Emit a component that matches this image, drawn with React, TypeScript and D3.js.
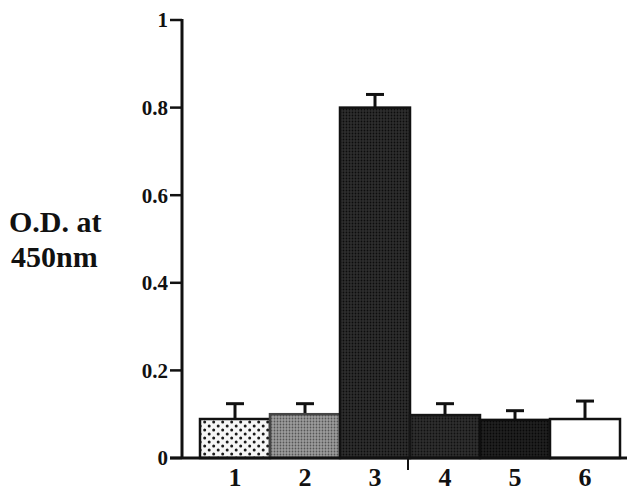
import React from 'react';
import * as d3 from 'd3';

const categories = ['1', '2', '3', '4', '5', '6'];
const means = [0.089, 0.1, 0.8, 0.098, 0.087, 0.089];
const upperErrors = [0.035, 0.024, 0.03, 0.026, 0.021, 0.041];
const yTicks = [0, 0.2, 0.4, 0.6, 0.8, 1];
const yTickLabels = ['0', '0.2', '0.4', '0.6', '0.8', '1'];

const width = 628;
const height = 493;
const font = '"Liberation Serif", "Times New Roman", serif';

// fill for each bar, patterns defined below
const fills = ['url(#dots)', 'url(#grey)', 'url(#dark3)', 'url(#dark4)', 'url(#dark5)', '#fff'];
const borders = ['#111', '#444', '#111', '#151515', '#0e0e0e', '#111'];

export default function App() {
  const x = d3.scaleBand().domain(categories).range([200, 620]).padding(0);
  const y = d3.scaleLinear().domain([0, 1]).range([458, 20]);
  const axisX = 182;

  return (
    <svg
      width={width}
      height={height}
      viewBox={`0 0 ${width} ${height}`}
      style={{ position: 'absolute', left: 0, top: 0, background: '#fff' }}
    >
      <defs>
        <pattern id="dots" width="9" height="8" patternUnits="userSpaceOnUse">
          <rect width="9" height="8" fill="#f6f6f6" />
          <circle cx="2.2" cy="2" r="1.5" fill="#1a1a1a" />
          <circle cx="6.7" cy="6" r="1.5" fill="#1a1a1a" />
        </pattern>
        <pattern id="grey" width="3" height="3" patternUnits="userSpaceOnUse">
          <rect width="3" height="3" fill="#9c9c9c" />
          <circle cx="1.5" cy="1.5" r="0.9" fill="#555" />
        </pattern>
        <pattern id="dark3" width="3" height="3" patternUnits="userSpaceOnUse">
          <rect width="3" height="3" fill="#2e2e2e" />
          <circle cx="1.5" cy="1.5" r="0.9" fill="#0c0c0c" />
        </pattern>
        <pattern id="dark4" width="3" height="3" patternUnits="userSpaceOnUse">
          <rect width="3" height="3" fill="#2e2e2e" />
          <circle cx="1.5" cy="1.5" r="0.9" fill="#101010" />
        </pattern>
        <pattern id="dark5" width="3" height="3" patternUnits="userSpaceOnUse">
          <rect width="3" height="3" fill="#202020" />
          <circle cx="1.5" cy="1.5" r="0.9" fill="#080808" />
        </pattern>
      </defs>

      {/* error bars first so the bar covers the stem base */}
      {categories.map((c, i) => {
        const cx = (x(c) as number) + x.bandwidth() / 2;
        const top = y(means[i] + upperErrors[i]);
        return (
          <g key={`err-${c}`} stroke="#111" strokeWidth={3}>
            <line x1={cx} x2={cx} y1={y(means[i])} y2={top} />
            <line x1={cx - 9} x2={cx + 9} y1={top} y2={top} />
          </g>
        );
      })}

      {categories.map((c, i) => (
        <rect
          key={`bar-${c}`}
          x={x(c)}
          y={y(means[i])}
          width={x.bandwidth()}
          height={y(0) - y(means[i])}
          fill={fills[i]}
          stroke={borders[i]}
          strokeWidth={2.5}
        />
      ))}

      {/* y axis */}
      <line x1={axisX} x2={axisX} y1={y(1) - 1} y2={y(0) + 1} stroke="#111" strokeWidth={3} />
      {yTicks.map((t, i) => (
        <g key={`yt-${t}`}>
          <line x1={axisX - 12} x2={axisX} y1={y(t)} y2={y(t)} stroke="#111" strokeWidth={2.5} />
          <text
            x={axisX - 14}
            y={y(t)}
            dy="0.35em"
            textAnchor="end"
            fontFamily={font}
            fontWeight="bold"
            fontSize={21}
            fill="#111"
          >
            {yTickLabels[i]}
          </text>
        </g>
      ))}

      {/* x axis */}
      <line x1={170} x2={627} y1={y(0)} y2={y(0)} stroke="#111" strokeWidth={3} />
      <line x1={408} x2={408} y1={y(0)} y2={y(0) + 12} stroke="#111" strokeWidth={2} />
      {categories.map((c) => (
        <text
          key={`xl-${c}`}
          x={(x(c) as number) + x.bandwidth() / 2}
          y={486}
          textAnchor="middle"
          fontFamily={font}
          fontWeight="bold"
          fontSize={26}
          fill="#111"
        >
          {c}
        </text>
      ))}

      {/* y label */}
      <text fontFamily={font} fontWeight="bold" fontSize={30} fill="#111">
        <tspan x={9} y={232}>O.D. at</tspan>
        <tspan x={11} y={267}>450nm</tspan>
      </text>
    </svg>
  );
}
